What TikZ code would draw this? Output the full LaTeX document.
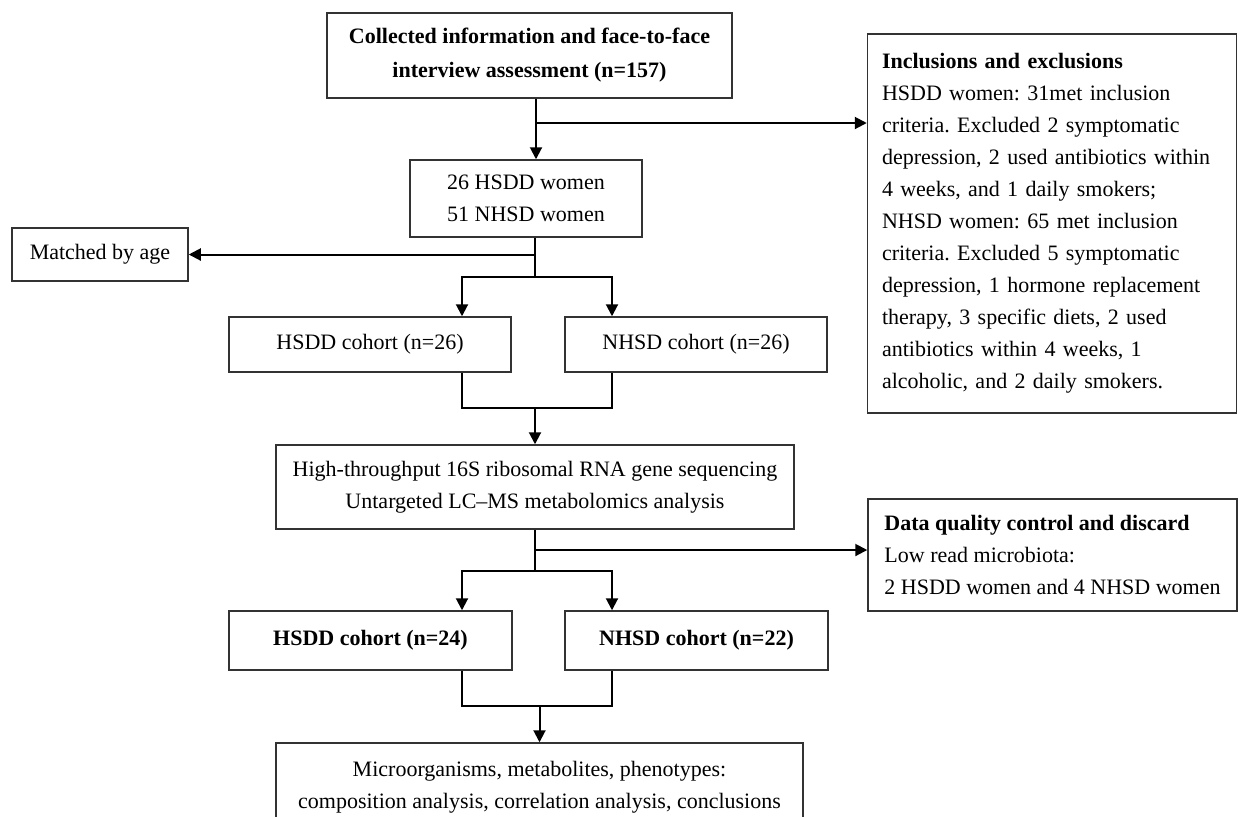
\documentclass[tikz,border=0pt]{standalone}
\usepackage{fontspec}
\setmainfont{Liberation Serif}
\usetikzlibrary{arrows.meta}
\tikzstyle{pixelGrid} = [x = 0.5pt, y = -0.5pt]
\tikzstyle{boxStyle} = [draw = black!80, line width = 0.75pt, fill = white, align = center, inner sep = 0pt, font = \fontsize{11}{16}\selectfont\frenchspacing]
\tikzstyle{boldText} = [font = \fontsize{11}{17}\selectfont\bfseries]
\tikzstyle{noteStyle} = [boxStyle, align = left, inner xsep = 7.25pt]
\tikzstyle{flowLine} = [line width = 1pt, color = black]
\tikzstyle{flowArrow} = [flowLine, -{Triangle[length = 6pt, width = 6pt]}]
\newcommand{\flowBox}[7][]{\node [boxStyle, minimum width = #5pt, minimum height = #6pt, #1] (#2) at (#3, #4) {#7};}

\begin{document}
\begin{tikzpicture}[pixelGrid]
  \clip (0, 0) rectangle (1240, 816);
  \fill [white] (0, 0) rectangle (1240, 816);

  % boxes
  \flowBox[boldText]{collect}{529.5}{55.5}{202.5}{42.5}{Collected information and face-to-face\\ interview assessment (n=157)}
  \flowBox{women}{526}{198.5}{116}{38.5}{26 HSDD women\\ 51 NHSD women}
  \flowBox{matched}{100}{254.5}{88}{26.5}{Matched by age}
  \flowBox{hsddFirst}{370}{344.5}{141}{27.5}{HSDD cohort (n=26)}
  \flowBox{nhsdFirst}{696}{344.5}{131}{27.5}{NHSD cohort (n=26)}
  \flowBox{sequencing}{535}{487}{259}{42}{High-throughput 16S ribosomal RNA gene sequencing\\ Untargeted LC--MS metabolomics analysis}
  \flowBox[boldText]{hsddSecond}{370.5}{640.5}{141.5}{29.5}{HSDD cohort (n=24)}
  \flowBox[boldText]{nhsdSecond}{696.5}{640.5}{131.5}{29.5}{NHSD cohort (n=22)}
  \flowBox{results}{539.5}{787}{263.5}{44}{Microorganisms, metabolites, phenotypes:\\ composition analysis, correlation analysis, conclusions}

  \node [noteStyle, text width = 170pt, minimum height = 189.5pt] (inclusions) at (1052, 223.5) {\textbf{Inclusions and exclusions}\\
    HSDD women: 31met inclusion\\
    criteria. Excluded 2 symptomatic\\
    depression, 2 used antibiotics within\\
    4 weeks, and 1 daily smokers;\\
    NHSD women: 65 met inclusion\\
    criteria. Excluded 5 symptomatic\\
    depression, 1 hormone replacement\\
    therapy, 3 specific diets, 2 used\\
    antibiotics within 4 weeks, 1\\
    alcoholic, and 2 daily smokers.};
  \node [noteStyle, minimum width = 184.5pt, minimum height = 56pt] (quality) at (1052.5, 555) {\textbf{Data quality control and discard}\\
    Low read microbiota:\\
    2 HSDD women and 4 NHSD women};

  % junctions
  \coordinate (leftCol) at (462, 0);
  \coordinate (rightCol) at (612, 0);
  \coordinate (toInclusions) at (536, 123);
  \coordinate (toMatched) at (535, 254.5);
  \coordinate (splitFirst) at (535, 277);
  \coordinate (mergeFirst) at (535, 408);
  \coordinate (toQuality) at (535, 550);
  \coordinate (splitSecond) at (535, 571);
  \coordinate (mergeSecond) at (539.5, 706);

  % connectors
  \draw [flowArrow] (collect.south -| toInclusions) -- (women.north -| toInclusions);
  \draw [flowArrow] (toInclusions) -- (inclusions.west |- toInclusions);
  \draw [flowLine] (women.south -| splitFirst) -- (splitFirst);
  \draw [flowArrow] (toMatched) -- (matched);
  \draw [flowArrow] (splitFirst) -| (hsddFirst.north -| leftCol);
  \draw [flowArrow] (splitFirst) -| (nhsdFirst.north -| rightCol);
  \draw [flowLine] (hsddFirst.south -| leftCol) |- (mergeFirst) -| (nhsdFirst.south -| rightCol);
  \draw [flowArrow] (mergeFirst) -- (sequencing.north);
  \draw [flowLine] (sequencing.south) -- (splitSecond);
  \draw [flowArrow] (toQuality) -- (quality.west |- toQuality);
  \draw [flowArrow] (splitSecond) -| (hsddSecond.north -| leftCol);
  \draw [flowArrow] (splitSecond) -| (nhsdSecond.north -| rightCol);
  \draw [flowLine] (hsddSecond.south -| leftCol) |- (mergeSecond) -| (nhsdSecond.south -| rightCol);
  \draw [flowArrow] (mergeSecond) -- (results.north);
\end{tikzpicture}
\end{document}
